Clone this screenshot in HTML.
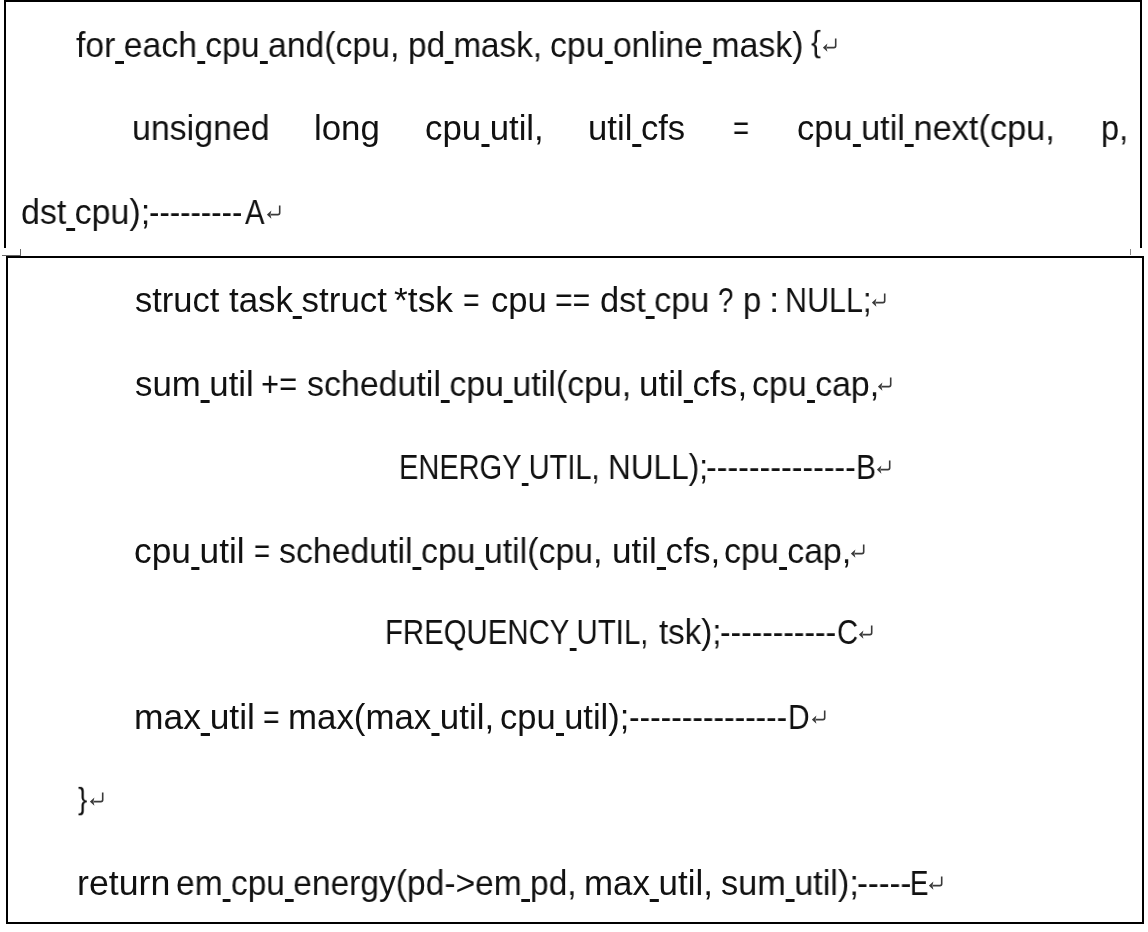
<!DOCTYPE html>
<html><head><meta charset="utf-8">
<style>
html,body{margin:0;padding:0;background:#fff;}
body{width:1148px;height:932px;position:relative;overflow:hidden;}
.bx{position:absolute;background:#000;}
.l{position:absolute;font-family:"Liberation Sans",sans-serif;font-size:34.5px;line-height:60px;white-space:pre;color:#111;transform-origin:0 0;will-change:transform;}
.u{display:inline-block;width:8.5px;height:3px;background:#111;vertical-align:-7px;}
.r{position:absolute;}
.mk{position:absolute;background:#666;}
</style></head><body>
<div class="bx" style="left:4px;top:0;width:1138px;height:2px"></div>
<div class="bx" style="left:4px;top:0;width:2px;height:248px"></div>
<div class="bx" style="left:1140px;top:0;width:2px;height:248px"></div>
<div class="bx" style="left:6px;top:256px;width:1138px;height:2px"></div>
<div class="bx" style="left:6px;top:256px;width:2px;height:668px"></div>
<div class="bx" style="left:1142px;top:256px;width:2px;height:668px"></div>
<div class="bx" style="left:6px;top:922px;width:1138px;height:2px"></div>
<div class="mk" style="left:2px;top:255px;width:19px;height:1px"></div>
<div class="mk" style="left:20px;top:249px;width:1px;height:7px"></div>
<div class="mk" style="left:1130px;top:249px;width:1px;height:6px;background:#888"></div>
<div class="l" style="left:76.42px;top:14.50px;transform:scaleX(0.9783)">for<i class="u"></i>each<i class="u"></i>cpu<i class="u"></i>and(cpu,</div>
<div class="l" style="left:407.87px;top:14.50px;transform:scaleX(0.9657)">pd<i class="u"></i>mask,</div>
<div class="l" style="left:550.04px;top:14.50px;transform:scaleX(0.9796)">cpu<i class="u"></i>online<i class="u"></i>mask)</div>
<div class="l" style="left:811.44px;top:16.38px;transform:scale(0.8600,0.864)">{</div>
<div class="l" style="left:131.93px;top:98.20px;transform:scaleX(0.9831)">unsigned</div>
<div class="l" style="left:313.98px;top:98.20px;transform:scaleX(1.0098)">long</div>
<div class="l" style="left:424.58px;top:98.20px;transform:scaleX(1.0080)">cpu<i class="u"></i>util,</div>
<div class="l" style="left:587.89px;top:98.20px;transform:scaleX(1.0053)">util<i class="u"></i>cfs</div>
<div class="l" style="left:732.95px;top:98.20px;transform:scaleX(0.8000)">=</div>
<div class="l" style="left:796.81px;top:98.20px;transform:scaleX(0.9972)">cpu<i class="u"></i>util<i class="u"></i>next(cpu,</div>
<div class="l" style="left:1101.22px;top:98.20px;transform:scaleX(0.9417)">p,</div>
<div class="l" style="left:20.72px;top:182.00px;transform:scaleX(0.9835)">dst<i class="u"></i>cpu);</div>
<div class="l" style="left:149.20px;top:182.00px;transform:scaleX(0.9020)">---------</div>
<div class="l" style="left:245.40px;top:182.00px;transform:scaleX(0.8478)">A</div>
<div class="l" style="left:134.70px;top:270.20px;transform:scaleX(0.9988)">struct</div>
<div class="l" style="left:228.79px;top:270.20px;transform:scaleX(1.0116)">task<i class="u"></i>struct</div>
<div class="l" style="left:394.27px;top:270.20px;transform:scaleX(1.0268)">*tsk</div>
<div class="l" style="left:463.36px;top:270.20px;transform:scaleX(0.8176)">=</div>
<div class="l" style="left:490.79px;top:270.20px;transform:scaleX(1.0039)">cpu</div>
<div class="l" style="left:555.06px;top:270.20px;transform:scaleX(0.8703)">==</div>
<div class="l" style="left:599.71px;top:270.20px;transform:scaleX(0.9925)">dst<i class="u"></i>cpu</div>
<div class="l" style="left:718.35px;top:270.20px;transform:scaleX(0.8000)">?</div>
<div class="l" style="left:743.00px;top:270.20px;transform:scaleX(0.9500)">p</div>
<div class="l" style="left:768.67px;top:270.20px;transform:scaleX(1.0750)">:</div>
<div class="l" style="left:784.65px;top:270.20px;transform:scaleX(0.8837)">NULL;</div>
<div class="l" style="left:134.69px;top:354.30px;transform:scaleX(1.0088)">sum<i class="u"></i>util</div>
<div class="l" style="left:261.11px;top:354.30px;transform:scaleX(0.8946)">+=</div>
<div class="l" style="left:307.22px;top:354.30px;transform:scaleX(0.9837)">schedutil<i class="u"></i>cpu<i class="u"></i>util(cpu,</div>
<div class="l" style="left:639.06px;top:354.30px;transform:scaleX(1.0178)">util<i class="u"></i>cfs,</div>
<div class="l" style="left:752.43px;top:354.30px;transform:scaleX(0.9831)">cpu<i class="u"></i>cap,</div>
<div class="l" style="left:399.28px;top:437.20px;transform:scaleX(0.8408)">ENERGY<i class="u"></i>UTIL,</div>
<div class="l" style="left:608.06px;top:437.20px;transform:scaleX(0.9146)">NULL);</div>
<div class="l" style="left:706.24px;top:437.20px;transform:scaleX(0.9318)">--------------</div>
<div class="l" style="left:855.98px;top:437.20px;transform:scaleX(0.8722)">B</div>
<div class="l" style="left:133.66px;top:520.50px;transform:scaleX(1.0221)">cpu<i class="u"></i>util</div>
<div class="l" style="left:253.55px;top:520.50px;transform:scaleX(0.8000)">=</div>
<div class="l" style="left:279.32px;top:520.50px;transform:scaleX(0.9813)">schedutil<i class="u"></i>cpu<i class="u"></i>util(cpu,</div>
<div class="l" style="left:612.06px;top:520.50px;transform:scaleX(1.0188)">util<i class="u"></i>cfs,</div>
<div class="l" style="left:723.63px;top:520.50px;transform:scaleX(0.9839)">cpu<i class="u"></i>cap,</div>
<div class="l" style="left:384.95px;top:602.40px;transform:scaleX(0.8512)">FREQUENCY<i class="u"></i>UTIL,</div>
<div class="l" style="left:658.94px;top:602.40px;transform:scaleX(0.9590)">tsk);</div>
<div class="l" style="left:719.66px;top:602.40px;transform:scaleX(0.9179)">-----------</div>
<div class="l" style="left:836.90px;top:602.40px;transform:scaleX(0.8476)">C</div>
<div class="l" style="left:133.65px;top:686.50px;transform:scaleX(1.0265)">max<i class="u"></i>util</div>
<div class="l" style="left:262.96px;top:686.50px;transform:scaleX(0.8176)">=</div>
<div class="l" style="left:287.98px;top:686.50px;transform:scaleX(1.0101)">max(max<i class="u"></i>util,</div>
<div class="l" style="left:500.00px;top:686.50px;transform:scaleX(0.9984)">cpu<i class="u"></i>util);</div>
<div class="l" style="left:628.66px;top:686.50px;transform:scaleX(0.9183)">---------------</div>
<div class="l" style="left:787.80px;top:686.50px;transform:scaleX(0.8650)">D</div>
<div class="l" style="left:77.85px;top:772.98px;transform:scale(0.8000,0.864)">}</div>
<div class="l" style="left:77.13px;top:852.50px;transform:scaleX(1.0349)">return</div>
<div class="l" style="left:176.26px;top:852.50px;transform:scaleX(0.9725)">em<i class="u"></i>cpu<i class="u"></i>energy(pd-&gt;em<i class="u"></i>pd,</div>
<div class="l" style="left:584.48px;top:852.50px;transform:scaleX(1.0115)">max<i class="u"></i>util,</div>
<div class="l" style="left:721.21px;top:852.50px;transform:scaleX(0.9933)">sum<i class="u"></i>util);</div>
<div class="l" style="left:856.61px;top:852.50px;transform:scaleX(0.9444)">-----</div>
<div class="l" style="left:909.95px;top:852.50px;transform:scaleX(0.8000)">E</div>
<svg class="r" style="left:823.0px;top:37.5px" width="14" height="15" viewBox="0 0 14 15"><path d="M12.7 0.6V7.8Q12.7 9.6 10.9 9.6H3.6" fill="none" stroke="#3a3a3a" stroke-width="1.6"/><path d="M-0.2 9.6L4.4 5.4L3.4 9.6L4.4 13.8Z" fill="#3a3a3a"/></svg>
<svg class="r" style="left:267.0px;top:205.0px" width="14" height="15" viewBox="0 0 14 15"><path d="M12.7 0.6V7.8Q12.7 9.6 10.9 9.6H3.6" fill="none" stroke="#3a3a3a" stroke-width="1.6"/><path d="M-0.2 9.6L4.4 5.4L3.4 9.6L4.4 13.8Z" fill="#3a3a3a"/></svg>
<svg class="r" style="left:872.0px;top:293.2px" width="14" height="15" viewBox="0 0 14 15"><path d="M12.7 0.6V7.8Q12.7 9.6 10.9 9.6H3.6" fill="none" stroke="#3a3a3a" stroke-width="1.6"/><path d="M-0.2 9.6L4.4 5.4L3.4 9.6L4.4 13.8Z" fill="#3a3a3a"/></svg>
<svg class="r" style="left:878.0px;top:377.3px" width="14" height="15" viewBox="0 0 14 15"><path d="M12.7 0.6V7.8Q12.7 9.6 10.9 9.6H3.6" fill="none" stroke="#3a3a3a" stroke-width="1.6"/><path d="M-0.2 9.6L4.4 5.4L3.4 9.6L4.4 13.8Z" fill="#3a3a3a"/></svg>
<svg class="r" style="left:876.9px;top:460.2px" width="14" height="15" viewBox="0 0 14 15"><path d="M12.7 0.6V7.8Q12.7 9.6 10.9 9.6H3.6" fill="none" stroke="#3a3a3a" stroke-width="1.6"/><path d="M-0.2 9.6L4.4 5.4L3.4 9.6L4.4 13.8Z" fill="#3a3a3a"/></svg>
<svg class="r" style="left:851.0px;top:543.5px" width="14" height="15" viewBox="0 0 14 15"><path d="M12.7 0.6V7.8Q12.7 9.6 10.9 9.6H3.6" fill="none" stroke="#3a3a3a" stroke-width="1.6"/><path d="M-0.2 9.6L4.4 5.4L3.4 9.6L4.4 13.8Z" fill="#3a3a3a"/></svg>
<svg class="r" style="left:858.5px;top:625.4px" width="14" height="15" viewBox="0 0 14 15"><path d="M12.7 0.6V7.8Q12.7 9.6 10.9 9.6H3.6" fill="none" stroke="#3a3a3a" stroke-width="1.6"/><path d="M-0.2 9.6L4.4 5.4L3.4 9.6L4.4 13.8Z" fill="#3a3a3a"/></svg>
<svg class="r" style="left:811.8px;top:709.5px" width="14" height="15" viewBox="0 0 14 15"><path d="M12.7 0.6V7.8Q12.7 9.6 10.9 9.6H3.6" fill="none" stroke="#3a3a3a" stroke-width="1.6"/><path d="M-0.2 9.6L4.4 5.4L3.4 9.6L4.4 13.8Z" fill="#3a3a3a"/></svg>
<svg class="r" style="left:90.0px;top:792.2px" width="14" height="15" viewBox="0 0 14 15"><path d="M12.7 0.6V7.8Q12.7 9.6 10.9 9.6H3.6" fill="none" stroke="#3a3a3a" stroke-width="1.6"/><path d="M-0.2 9.6L4.4 5.4L3.4 9.6L4.4 13.8Z" fill="#3a3a3a"/></svg>
<svg class="r" style="left:928.8px;top:875.5px" width="14" height="15" viewBox="0 0 14 15"><path d="M12.7 0.6V7.8Q12.7 9.6 10.9 9.6H3.6" fill="none" stroke="#3a3a3a" stroke-width="1.6"/><path d="M-0.2 9.6L4.4 5.4L3.4 9.6L4.4 13.8Z" fill="#3a3a3a"/></svg>
</body></html>
